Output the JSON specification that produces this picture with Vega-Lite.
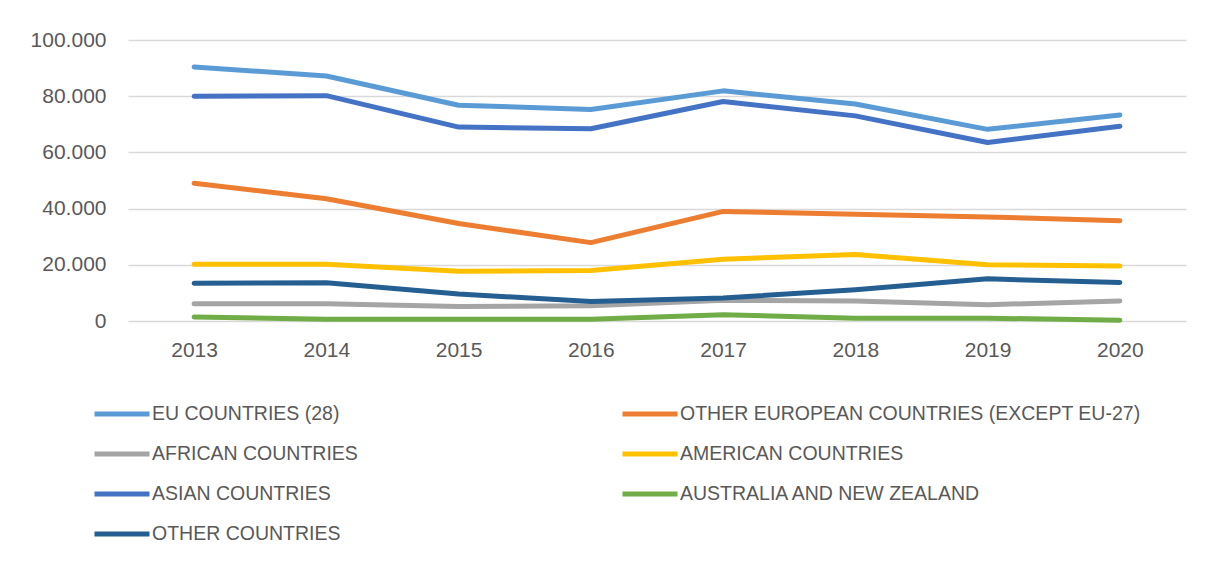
{
  "$schema": "https://vega.github.io/schema/vega-lite/v6.json",
  "width": 1058,
  "height": 281,
  "autosize": {"type": "none"},
  "padding": {"left": 128, "top": 40, "right": 22, "bottom": 246},
  "background": "white",
  "config": {
    "font": "Liberation Sans",
    "view": {"stroke": null}
  },
  "data": {
    "values": [
      {"year": "2013", "region": "EU COUNTRIES (28)", "value": 90400},
      {"year": "2014", "region": "EU COUNTRIES (28)", "value": 87200},
      {"year": "2015", "region": "EU COUNTRIES (28)", "value": 76800},
      {"year": "2016", "region": "EU COUNTRIES (28)", "value": 75300},
      {"year": "2017", "region": "EU COUNTRIES (28)", "value": 81900},
      {"year": "2018", "region": "EU COUNTRIES (28)", "value": 77200},
      {"year": "2019", "region": "EU COUNTRIES (28)", "value": 68200},
      {"year": "2020", "region": "EU COUNTRIES (28)", "value": 73300},
      {"year": "2013", "region": "OTHER EUROPEAN COUNTRIES (EXCEPT EU-27)", "value": 49000},
      {"year": "2014", "region": "OTHER EUROPEAN COUNTRIES (EXCEPT EU-27)", "value": 43500},
      {"year": "2015", "region": "OTHER EUROPEAN COUNTRIES (EXCEPT EU-27)", "value": 34700},
      {"year": "2016", "region": "OTHER EUROPEAN COUNTRIES (EXCEPT EU-27)", "value": 27900},
      {"year": "2017", "region": "OTHER EUROPEAN COUNTRIES (EXCEPT EU-27)", "value": 39000},
      {"year": "2018", "region": "OTHER EUROPEAN COUNTRIES (EXCEPT EU-27)", "value": 38000},
      {"year": "2019", "region": "OTHER EUROPEAN COUNTRIES (EXCEPT EU-27)", "value": 37000},
      {"year": "2020", "region": "OTHER EUROPEAN COUNTRIES (EXCEPT EU-27)", "value": 35700},
      {"year": "2013", "region": "AFRICAN COUNTRIES", "value": 6100},
      {"year": "2014", "region": "AFRICAN COUNTRIES", "value": 6100},
      {"year": "2015", "region": "AFRICAN COUNTRIES", "value": 5200},
      {"year": "2016", "region": "AFRICAN COUNTRIES", "value": 5400},
      {"year": "2017", "region": "AFRICAN COUNTRIES", "value": 7400},
      {"year": "2018", "region": "AFRICAN COUNTRIES", "value": 7100},
      {"year": "2019", "region": "AFRICAN COUNTRIES", "value": 5800},
      {"year": "2020", "region": "AFRICAN COUNTRIES", "value": 7100},
      {"year": "2013", "region": "AMERICAN COUNTRIES", "value": 20200},
      {"year": "2014", "region": "AMERICAN COUNTRIES", "value": 20200},
      {"year": "2015", "region": "AMERICAN COUNTRIES", "value": 17700},
      {"year": "2016", "region": "AMERICAN COUNTRIES", "value": 18000},
      {"year": "2017", "region": "AMERICAN COUNTRIES", "value": 22000},
      {"year": "2018", "region": "AMERICAN COUNTRIES", "value": 23700},
      {"year": "2019", "region": "AMERICAN COUNTRIES", "value": 20000},
      {"year": "2020", "region": "AMERICAN COUNTRIES", "value": 19600},
      {"year": "2013", "region": "ASIAN COUNTRIES", "value": 80000},
      {"year": "2014", "region": "ASIAN COUNTRIES", "value": 80200},
      {"year": "2015", "region": "ASIAN COUNTRIES", "value": 69000},
      {"year": "2016", "region": "ASIAN COUNTRIES", "value": 68400},
      {"year": "2017", "region": "ASIAN COUNTRIES", "value": 78100},
      {"year": "2018", "region": "ASIAN COUNTRIES", "value": 73000},
      {"year": "2019", "region": "ASIAN COUNTRIES", "value": 63500},
      {"year": "2020", "region": "ASIAN COUNTRIES", "value": 69300},
      {"year": "2013", "region": "AUSTRALIA AND NEW ZEALAND", "value": 1400},
      {"year": "2014", "region": "AUSTRALIA AND NEW ZEALAND", "value": 600},
      {"year": "2015", "region": "AUSTRALIA AND NEW ZEALAND", "value": 600},
      {"year": "2016", "region": "AUSTRALIA AND NEW ZEALAND", "value": 600},
      {"year": "2017", "region": "AUSTRALIA AND NEW ZEALAND", "value": 2200},
      {"year": "2018", "region": "AUSTRALIA AND NEW ZEALAND", "value": 1000},
      {"year": "2019", "region": "AUSTRALIA AND NEW ZEALAND", "value": 1000},
      {"year": "2020", "region": "AUSTRALIA AND NEW ZEALAND", "value": 300},
      {"year": "2013", "region": "OTHER COUNTRIES", "value": 13400},
      {"year": "2014", "region": "OTHER COUNTRIES", "value": 13600},
      {"year": "2015", "region": "OTHER COUNTRIES", "value": 9600},
      {"year": "2016", "region": "OTHER COUNTRIES", "value": 6900},
      {"year": "2017", "region": "OTHER COUNTRIES", "value": 8200},
      {"year": "2018", "region": "OTHER COUNTRIES", "value": 11100},
      {"year": "2019", "region": "OTHER COUNTRIES", "value": 15000},
      {"year": "2020", "region": "OTHER COUNTRIES", "value": 13700}
    ]
  },
  "mark": {"type": "line", "strokeWidth": 5, "strokeCap": "round", "strokeJoin": "round"},
  "encoding": {
    "x": {
      "field": "year",
      "type": "ordinal",
      "scale": {"type": "point", "padding": 0.5},
      "axis": {
        "title": null,
        "labelAngle": 0,
        "ticks": false,
        "domain": false,
        "labelFontSize": 21,
        "labelColor": "#595959",
        "labelPadding": 18
      }
    },
    "y": {
      "field": "value",
      "type": "quantitative",
      "scale": {"domain": [0, 100000], "nice": false, "zero": true},
      "axis": {
        "title": null,
        "values": [0, 20000, 40000, 60000, 80000, 100000],
        "labelExpr": "datum.value == 0 ? '0' : replace(format(datum.value, ','), ',', '.')",
        "ticks": false,
        "domain": false,
        "grid": true,
        "gridColor": "#d9d9d9",
        "gridWidth": 1.5,
        "labelFontSize": 21,
        "labelColor": "#595959",
        "labelPadding": 22
      }
    },
    "color": {
      "field": "region",
      "type": "nominal",
      "scale": {
        "domain": ["EU COUNTRIES (28)", "OTHER EUROPEAN COUNTRIES (EXCEPT EU-27)", "AFRICAN COUNTRIES", "AMERICAN COUNTRIES", "ASIAN COUNTRIES", "AUSTRALIA AND NEW ZEALAND", "OTHER COUNTRIES"],
        "range": ["#5B9BD5", "#ED7D31", "#A5A5A5", "#FFC000", "#4472C4", "#70AD47", "#255E91"]
      },
      "legend": {
        "title": null,
        "orient": "none",
        "legendX": -36,
        "legendY": 344,
        "direction": "horizontal",
        "columns": 2,
        "columnPadding": 254,
        "rowPadding": -14,
        "symbolType": "stroke",
        "symbolSize": 3025,
        "symbolStrokeWidth": 5,
        "labelFontSize": 19.5,
        "labelColor": "#595959",
        "labelOffset": 0,
        "labelLimit": 600
      }
    }
  }
}
